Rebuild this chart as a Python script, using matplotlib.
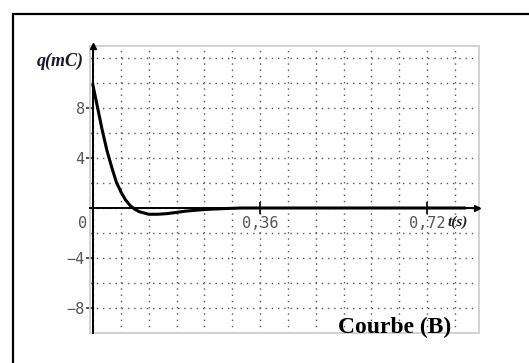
import matplotlib
matplotlib.use("Agg")
import matplotlib.pyplot as plt
from matplotlib.patches import Rectangle
from matplotlib.ticker import MultipleLocator, FixedLocator

# data
t_s = [0.0, 0.01, 0.02, 0.03, 0.04, 0.05, 0.06, 0.07, 0.08, 0.09, 0.10, 0.12,
       0.14, 0.16, 0.18, 0.20, 0.24, 0.28, 0.32, 0.40, 0.50, 0.60, 0.72, 0.80]
q_mC = [9.8, 8.0, 6.2, 4.6, 3.3, 2.1, 1.3, 0.65, 0.2, -0.1, -0.3, -0.5,
        -0.5, -0.45, -0.35, -0.25, -0.12, -0.05, 0.0, 0.0, 0.0, 0.0, 0.0, 0.0]
x_ticks = [0.36, 0.72]
x_tick_labels = ["0,36", "0,72"]
y_ticks = [-8, -4, 4, 8]
y_tick_labels = ["\u22128", "\u22124", "4", "8"]

W, H = 529, 363
fig = plt.figure(figsize=(W / 100, H / 100), dpi=100)
fig.patch.set_facecolor("white")

# outer black frame (continues past the right and bottom edges)
fig.add_artist(Rectangle((13 / W, -0.1), 1.2, 1 - 14 / H + 0.1,
                         transform=fig.transFigure, fill=False,
                         edgecolor="black", lw=1.6))

ax = fig.add_axes([90 / W, 1 - 333 / H, (479 - 90) / W, (333 - 46) / H])
ax.set_xlim(-0.0065, 0.832)
ax.set_ylim(-10, 12.96)

for s in ["top", "right"]:
    ax.spines[s].set_visible(False)
ax.spines["left"].set_position(("data", 0))
ax.spines["bottom"].set_position(("data", 0))
for s in ["left", "bottom"]:
    ax.spines[s].set_color("black")
    ax.spines[s].set_linewidth(1.4)
    ax.spines[s].set_zorder(3)

# light gray box
ax.add_patch(Rectangle((0, 0), 1, 1, transform=ax.transAxes, fill=False,
                       edgecolor="#cfcfcf", lw=1.3, clip_on=False, zorder=1))

ax.xaxis.set_major_locator(FixedLocator(x_ticks))
ax.xaxis.set_major_formatter(plt.FixedFormatter(x_tick_labels))
ax.yaxis.set_major_locator(FixedLocator(y_ticks))
ax.yaxis.set_major_formatter(plt.FixedFormatter(y_tick_labels))
ax.xaxis.set_minor_locator(MultipleLocator(0.06))
ax.yaxis.set_minor_locator(MultipleLocator(2))

ax.tick_params(axis="x", which="major", direction="inout", length=8, width=1.2,
               color="black", labelsize=11, labelcolor="#555555", pad=2)
ax.tick_params(axis="y", which="major", direction="out", length=5, width=1.2,
               color="#333333", labelsize=11, labelcolor="#555555", pad=1)
ax.tick_params(which="minor", length=0)
for lab in ax.get_xticklabels() + ax.get_yticklabels():
    lab.set_family("DejaVu Sans Mono")

ax.grid(which="both", color="#555555", linestyle=(0, (1, 3.5)), lw=1.0)
ax.set_axisbelow(True)

ax.plot(t_s, q_mC, color="black", lw=2.2, zorder=4, clip_on=False)

# arrow heads of the axes
ax.plot([0], [1], marker="^", color="black", ms=4,
        transform=ax.get_xaxis_transform(), clip_on=False, zorder=5)
ax.plot([0.995], [0], marker=">", color="black", ms=4,
        transform=ax.get_yaxis_transform(), clip_on=False, zorder=5)

# labels
ax.text(-0.012, -0.6, "0", ha="right", va="top", fontsize=11,
        family="DejaVu Sans Mono", color="#555555")
fig.text(60 / W, 1 - 61 / H, "q(mC)", ha="center", va="center", fontsize=13,
         family="Liberation Serif", style="italic", weight="bold",
         color="#1a1a2e")
ax.text(0.764, -0.6, "t(s)", ha="left", va="top", fontsize=11,
        family="Liberation Serif", style="italic", weight="bold",
        color="#1a1a2e")
fig.text(395 / W, 1 - 333 / H, "Courbe (B)", ha="center", va="baseline",
         fontsize=17, family="Liberation Serif", weight="bold", color="black")

fig.savefig("out.png", dpi=100, facecolor="white")
